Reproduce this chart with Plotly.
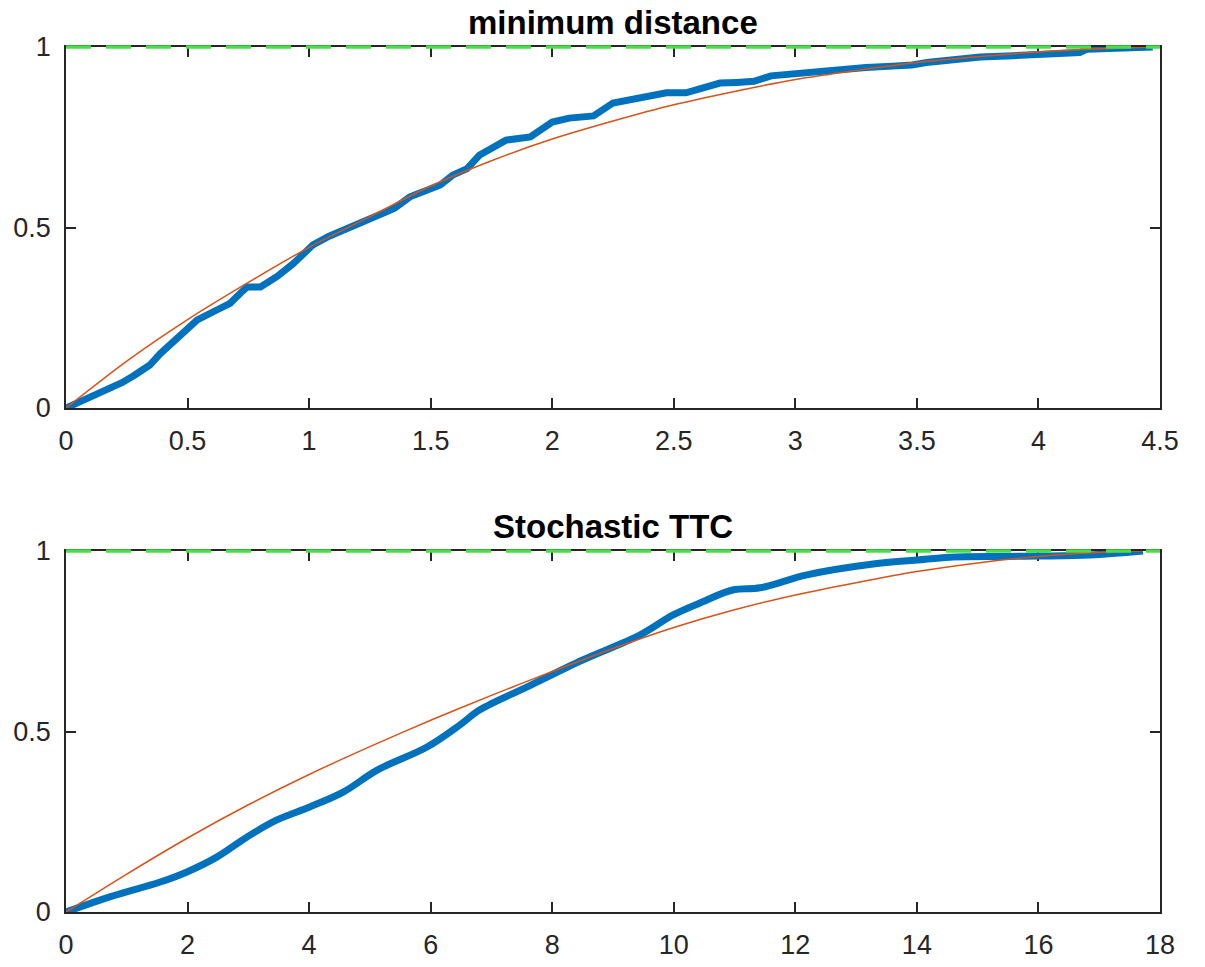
import plotly.graph_objects as go

# ---------- data: top panel (minimum distance) ----------
md_emp_x = [0.0, 0.04, 0.08, 0.13, 0.18, 0.23, 0.28, 0.345, 0.387, 0.46, 0.54, 0.61, 0.675, 0.72, 0.745, 0.80,
            0.87, 0.935, 0.98, 1.016, 1.08, 1.14, 1.21, 1.28, 1.35, 1.415, 1.47, 1.54, 1.59, 1.65, 1.70,
            1.76, 1.81, 1.91, 1.96, 2.00, 2.07, 2.17, 2.25, 2.33, 2.41, 2.47, 2.55, 2.62, 2.69, 2.76,
            2.83, 2.90, 3.00, 3.10, 3.20, 3.29, 3.40, 3.48, 3.55, 3.65, 3.76, 3.87, 3.97, 4.07, 4.17,
            4.20, 4.30, 4.40, 4.47]
md_emp_y = [0.0, 0.012, 0.025, 0.04, 0.058, 0.07, 0.09, 0.119, 0.150, 0.195, 0.244, 0.268, 0.29, 0.32, 0.335,
            0.335, 0.365, 0.40, 0.43, 0.452, 0.475, 0.493, 0.51, 0.53, 0.553, 0.585, 0.60, 0.618, 0.645,
            0.663, 0.70, 0.725, 0.742, 0.751, 0.775, 0.792, 0.803, 0.809, 0.845, 0.855, 0.861, 0.873,
            0.873, 0.888, 0.90, 0.902, 0.905, 0.92, 0.926, 0.934, 0.94, 0.943, 0.947, 0.95, 0.958,
            0.965, 0.972, 0.975, 0.978, 0.981, 0.985, 0.994, 0.996, 0.998, 1.0]

md_fit_x = [0.0, 0.25, 0.5, 0.75, 1.0, 1.25, 1.5, 1.75, 2.0, 2.25, 2.5, 2.75, 3.0, 3.25, 3.5,
            3.75, 4.0, 4.25, 4.48]
md_fit_y = [0.0, 0.13, 0.245, 0.348, 0.445, 0.53, 0.615, 0.685, 0.745, 0.795, 0.84, 0.877, 0.91,
            0.935, 0.957, 0.973, 0.986, 0.995, 1.0]

md_ref_x = [0.0, 4.5]
md_ref_y = [1.0, 1.0]

# ---------- data: bottom panel (Stochastic TTC) ----------
ttc_emp_x = [0.0, 0.72, 1.55, 1.99, 2.48, 2.98, 3.47, 4.01, 4.56, 5.12, 5.94, 6.48, 6.81, 7.58,
             8.5, 9.44, 9.99, 10.43, 10.97, 11.42, 12.19, 13.28, 14.0, 14.54, 15.5, 16.0, 16.85, 17.72]
ttc_emp_y = [0.0, 0.042, 0.083, 0.111, 0.152, 0.208, 0.255, 0.291, 0.332, 0.393, 0.457, 0.518, 0.56, 0.623,
             0.698, 0.767, 0.823, 0.856, 0.892, 0.898, 0.934, 0.964, 0.975, 0.983, 0.985, 0.986, 0.989, 1.0]

ttc_fit_x = [0.0, 1.0, 2.0, 3.0, 4.0, 5.0, 6.0, 7.0, 8.0, 9.0, 10.0, 11.0, 12.0, 13.0, 14.0, 15.0,
             16.0, 17.0, 17.72]
ttc_fit_y = [0.0, 0.105, 0.205, 0.297, 0.381, 0.458, 0.531, 0.60, 0.666, 0.73, 0.788, 0.837, 0.878,
             0.912, 0.943, 0.967, 0.985, 0.996, 1.0]

ttc_ref_x = [0.0, 18.0]
ttc_ref_y = [1.0, 1.0]

# ---------- styling ----------
BLUE = "#0072BD"
ORANGE = "#D95319"
GREEN = "rgb(70,225,70)"
AX = "#262626"
FONT = "Liberation Sans, Arial, sans-serif"

# pixel geometry (figure 1205x967)
M_T, M_B = 37, 55
PH = 967 - M_T - M_B
TOP_AX = (47, 408)     # pixel rows of top axes (y=1, y=0)
BOT_AX = (551, 912)
PAD = 10               # extra room above y=1 so the reference line is not clipped


def dom(p_top, p_bot):
    return [(967 - M_B - p_bot) / PH, (967 - M_B - p_top) / PH]


fig = go.Figure()


def add_panel(ex, ey, fx, fy, rx, ry, xa, ya, xo, yo, blue_shape):
    fig.add_trace(go.Scatter(x=ex, y=ey, mode="lines", line=dict(color=BLUE, width=7, shape=blue_shape),
                             xaxis=xa, yaxis=ya, showlegend=False))
    fig.add_trace(go.Scatter(x=fx, y=fy, mode="lines",
                             line=dict(color=ORANGE, width=1.5, shape="spline", smoothing=0.8),
                             xaxis=xa, yaxis=ya, showlegend=False))
    fig.add_trace(go.Scatter(x=rx, y=ry, mode="lines", line=dict(color=GREEN, width=3.5, dash="25px,15px"),
                             xaxis=xo, yaxis=yo, showlegend=False))


add_panel(md_emp_x, md_emp_y, md_fit_x, md_fit_y, md_ref_x, md_ref_y, "x", "y", "x3", "y3", "linear")
add_panel(ttc_emp_x, ttc_emp_y, ttc_fit_x, ttc_fit_y, ttc_ref_x, ttc_ref_y, "x2", "y2", "x4", "y4", "spline")

axis_common = dict(showline=True, linecolor=AX, linewidth=1.5, mirror="ticks", ticks="inside",
                   ticklen=10, tickwidth=1.5, tickcolor=AX, showgrid=False, zeroline=False,
                   layer="below traces", ticklabelstandoff=8, automargin=False,
                   tickfont=dict(family=FONT, size=27, color=AX))
hidden = dict(visible=False, showgrid=False, zeroline=False, automargin=False)

span = TOP_AX[1] - TOP_AX[0]
ov_top = 1 + PAD / span

fig.update_layout(
    width=1205, height=967,
    margin=dict(l=66, r=45, t=M_T, b=M_B),
    paper_bgcolor="white", plot_bgcolor="rgba(0,0,0,0)",
    xaxis=dict(domain=[0, 1], range=[0, 4.5], anchor="y", tickvals=[0, 0.5, 1, 1.5, 2, 2.5, 3, 3.5, 4, 4.5],
               ticktext=["0", "0.5", "1", "1.5", "2", "2.5", "3", "3.5", "4", "4.5"], **axis_common),
    yaxis=dict(domain=dom(*TOP_AX), range=[0, 1], anchor="x", tickvals=[0, 0.5, 1],
               ticktext=["0", "0.5", "1"], **axis_common),
    xaxis2=dict(domain=[0, 1], range=[0, 18], anchor="y2", tickvals=list(range(0, 19, 2)), **axis_common),
    yaxis2=dict(domain=dom(*BOT_AX), range=[0, 1], anchor="x2", tickvals=[0, 0.5, 1],
                ticktext=["0", "0.5", "1"], **axis_common),
    xaxis3=dict(domain=[0, 1], range=[0, 4.5], anchor="y3", **hidden),
    yaxis3=dict(domain=dom(TOP_AX[0] - PAD, TOP_AX[1]), range=[0, ov_top], anchor="x3", **hidden),
    xaxis4=dict(domain=[0, 1], range=[0, 18], anchor="y4", **hidden),
    yaxis4=dict(domain=dom(BOT_AX[0] - PAD, BOT_AX[1]), range=[0, ov_top], anchor="x4", **hidden),
    annotations=[
        dict(text="<b>minimum distance</b>", x=0.5, y=dom(*TOP_AX)[1], xref="paper", yref="paper",
             xanchor="center", yanchor="bottom", yshift=4, showarrow=False,
             font=dict(family=FONT, size=33, color="black")),
        dict(text="<b>Stochastic TTC</b>", x=0.5, y=dom(*BOT_AX)[1], xref="paper", yref="paper",
             xanchor="center", yanchor="bottom", yshift=4, showarrow=False,
             font=dict(family=FONT, size=33, color="black")),
    ],
)

fig.write_html("out.html")
